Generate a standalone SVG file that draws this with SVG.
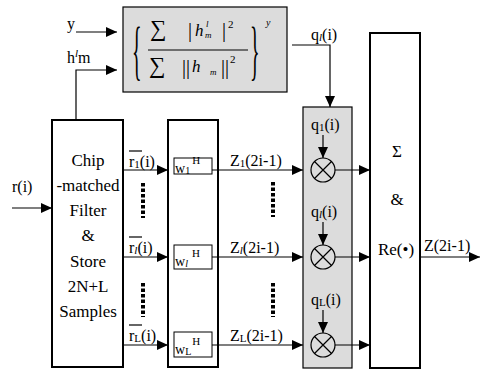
<svg xmlns="http://www.w3.org/2000/svg" width="480" height="370" viewBox="0 0 480 370">
<style>
text{font-family:Liberation Serif,DejaVu Serif,serif;fill:#000}
.lb{font-size:16px}
.big{font-size:17px}
.box{fill:#fff;stroke:#000;stroke-width:2}
.gray{fill:#dcdcdc;stroke:#000;stroke-width:1.2}
.wb{fill:#fff;stroke:#000;stroke-width:1}
.ln{fill:none;stroke:#000;stroke-width:1.2}
.dot{fill:none;stroke:#000;stroke-width:4;stroke-dasharray:3.5 2}
.it{font-style:italic}
</style>
<defs>
<marker id="ah" markerUnits="userSpaceOnUse" markerWidth="11" markerHeight="10" refX="11" refY="5" orient="auto">
<path d="M0,0 L11,5 L0,10 z" fill="#000"/>
</marker>
</defs>
<rect width="480" height="370" fill="#fff"/>

<g id="formula">
<rect class="gray" x="123" y="7" width="164" height="85"/>
<text transform="translate(132,72) scale(1,3.3)" font-size="20">{</text>
<text x="150" y="36" font-size="23">∑</text>
<text x="188" y="37" font-size="20">|</text>
<text x="195" y="36" font-size="17" class="it">h</text>
<text x="206" y="27" font-size="9" class="it">l</text>
<text x="205" y="38" font-size="9" class="it">m</text>
<text x="222" y="37" font-size="20">|</text>
<text x="228" y="28" font-size="11">2</text>
<line class="ln" x1="148" y1="50" x2="248" y2="50" stroke-width="1"/>
<text x="149" y="73" font-size="23">∑</text>
<text x="182" y="74" font-size="20">||</text>
<text x="192" y="72" font-size="17" class="it">h</text>
<text x="210" y="75" font-size="9" class="it">m</text>
<text x="221" y="74" font-size="20">||</text>
<text x="230" y="63" font-size="11">2</text>
<text transform="translate(250,72) scale(1,3.3)" font-size="20">}</text>
<text x="266" y="26" font-size="10" class="it">y</text>
</g>

<g id="chip">
<rect class="box" x="52" y="120" width="71" height="247"/>
<g class="big" text-anchor="middle">
<text x="88" y="166">Chip</text>
<text x="88" y="191">-matched</text>
<text x="88" y="216">Filter</text>
<text x="88" y="241">&amp;</text>
<text x="88" y="267">Store</text>
<text x="88" y="292">2N+L</text>
<text x="88" y="317">Samples</text>
</g>
</g>

<g id="wbank">
<rect class="box" x="168" y="120" width="50" height="247"/>
<rect class="wb" x="174" y="158" width="38" height="16"/>
<text x="175" y="173" font-size="14">w<tspan font-size="10" dy="1">1</tspan><tspan font-size="11" dx="2" dy="-10">H</tspan></text>
<rect class="wb" x="174" y="245" width="38" height="24"/>
<text x="175" y="266" font-size="14">w<tspan font-size="10" dy="1" class="it">l</tspan><tspan font-size="11" dx="4" dy="-10">H</tspan></text>
<rect class="wb" x="174" y="332" width="38" height="25"/>
<text x="175" y="354" font-size="14">w<tspan font-size="10" dy="1">L</tspan><tspan font-size="11" dx="1" dy="-10">H</tspan></text>
</g>

<g id="mult">
<rect class="gray" x="303" y="107" width="49" height="261"/>
<g class="ln">
<circle cx="323" cy="170" r="12"/>
<path d="M314.5,161.5 L331.5,178.5 M331.5,161.5 L314.5,178.5"/>
<circle cx="323" cy="257" r="12"/>
<path d="M314.5,248.5 L331.5,265.5 M331.5,248.5 L314.5,265.5"/>
<circle cx="323" cy="345" r="12"/>
<path d="M314.5,336.5 L331.5,353.5 M331.5,336.5 L314.5,353.5"/>
</g>
<g class="lb">
<text x="311" y="130">q<tspan font-size="11" dy="1">1</tspan><tspan dy="-1">(i)</tspan></text>
<text x="311" y="217">q<tspan font-size="11" dy="1" class="it">l</tspan><tspan dy="-1">(i)</tspan></text>
<text x="311" y="305">q<tspan font-size="11" dy="1">L</tspan><tspan dy="-1">(i)</tspan></text>
</g>
</g>

<g id="sum">
<rect class="box" x="370" y="33" width="50" height="335"/>
<g class="big" text-anchor="middle">
<text x="397" y="157">Σ</text>
<text x="397" y="205">&amp;</text>
<text x="396" y="255">Re(•)</text>
</g>
</g>

<g id="labels" class="lb">
<text x="67" y="29">y</text>
<text x="67" y="63">h<tspan font-size="11" dy="-6" class="it">l</tspan><tspan dy="6">m</tspan></text>
<text x="12" y="192">r(i)</text>
<text x="129" y="167">r<tspan font-size="11" dy="1">1</tspan><tspan dy="-1">(i)</tspan></text>
<text x="129" y="253">r<tspan font-size="11" dy="1" class="it">l</tspan><tspan dy="-1">(i)</tspan></text>
<text x="129" y="341">r<tspan font-size="11" dy="1">L</tspan><tspan dy="-1">(i)</tspan></text>
<text x="230" y="166">Z<tspan font-size="11" dy="1">1</tspan><tspan dy="-1">(2i-1)</tspan></text>
<text x="230" y="253">Z<tspan font-size="11" dy="1" class="it">l</tspan><tspan dy="-1">(2i-1)</tspan></text>
<text x="230" y="341">Z<tspan font-size="11" dy="1">L</tspan><tspan dy="-1">(2i-1)</tspan></text>
<text x="311" y="40">q<tspan font-size="11" dy="1" class="it">l</tspan><tspan dy="-1">(i)</tspan></text>
<text x="424" y="251">Z(2i-1)</text>
</g>

<g id="connectors">
<g class="ln">
<line x1="129" y1="151" x2="142" y2="151"/>
<line x1="129" y1="237" x2="142" y2="237"/>
<line x1="129" y1="325" x2="142" y2="325"/>
<line x1="76" y1="32" x2="117" y2="32" marker-end="url(#ah)"/>
<polyline points="76,120 76,70 117,70" marker-end="url(#ah)"/>
<line x1="12" y1="208" x2="52" y2="208" marker-end="url(#ah)"/>
<line x1="123" y1="170" x2="168" y2="170" marker-end="url(#ah)"/>
<line x1="123" y1="257" x2="168" y2="257" marker-end="url(#ah)"/>
<line x1="123" y1="345" x2="168" y2="345" marker-end="url(#ah)"/>
<line x1="212" y1="170" x2="303" y2="170" marker-end="url(#ah)"/>
<line x1="212" y1="257" x2="303" y2="257" marker-end="url(#ah)"/>
<line x1="212" y1="345" x2="303" y2="345" marker-end="url(#ah)"/>
<line x1="335" y1="170" x2="370" y2="170" marker-end="url(#ah)"/>
<line x1="335" y1="257" x2="370" y2="257" marker-end="url(#ah)"/>
<line x1="335" y1="345" x2="370" y2="345" marker-end="url(#ah)"/>
<line x1="323" y1="135" x2="323" y2="158" marker-end="url(#ah)"/>
<line x1="323" y1="222" x2="323" y2="245" marker-end="url(#ah)"/>
<line x1="323" y1="310" x2="323" y2="333" marker-end="url(#ah)"/>
<polyline points="292,45 330,45 330,107" marker-end="url(#ah)"/>
<line x1="420" y1="257" x2="480" y2="257" marker-end="url(#ah)"/>
</g>
<line class="dot" x1="143" y1="183" x2="143" y2="218"/>
<line class="dot" x1="143" y1="283" x2="143" y2="317"/>
<line class="dot" x1="273" y1="182" x2="273" y2="217"/>
<line class="dot" x1="273" y1="283" x2="273" y2="317"/>
</g>
</svg>
